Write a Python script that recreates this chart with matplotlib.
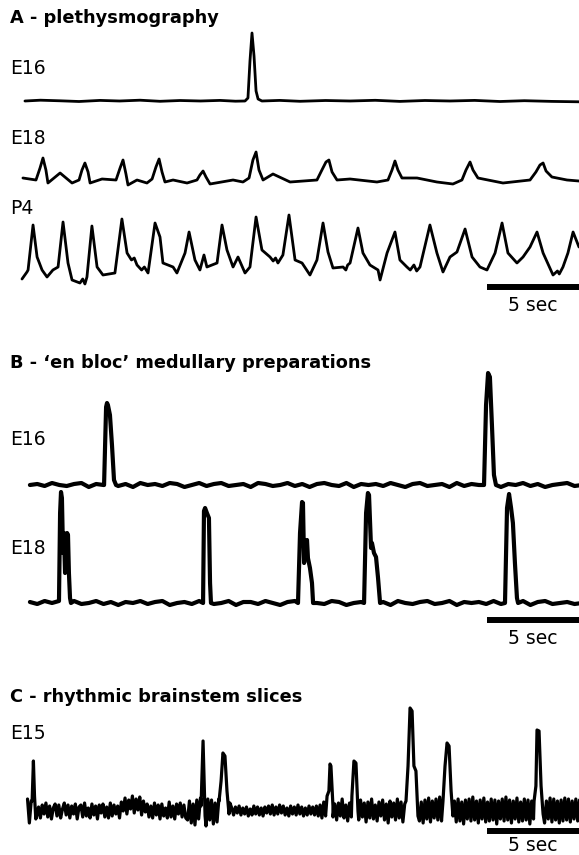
import numpy as np
import matplotlib
matplotlib.use("Agg")
import matplotlib.pyplot as plt

plt.rcParams['font.family'] = ['DejaVu Sans']

# ---------------- data (time in s, amplitude in arbitrary units) ----------------
scale_bar_sec = 5
t_end = 30.27

# A - plethysmography
a_e16_t = [0.16, 1.0, 2.07, 3.1, 4.24, 5.3, 6.41, 7.5, 8.59, 9.7, 10.76, 11.6, 12.12, 12.28,
           12.39, 12.50, 12.61, 12.72, 12.83, 13.04, 14.0, 15.11, 16.5, 17.83, 19.2,
           20.54, 21.9, 23.26, 24.6, 25.98, 27.3, 28.8, 30.27]
a_e16_v = [0, 0.8, 0.2, -0.5, 0.6, 0, 0.8, -0.3, 0.5, 0, 0.6, -0.2, 0, 3,
           40, 68, 45, 10, 2, 0, 0.6, -0.3, 0.5, 0, 0.7, -0.4, 0.5, 0, 0.6, -0.5, 0.3, -0.4, -0.8]

a_e18_t = [0.05, 0.76, 0.98, 1.14, 1.30, 1.41, 2.07, 2.72, 3.10, 3.26, 3.42, 3.59, 3.70,
           4.35, 5.11, 5.33, 5.49, 5.65, 5.76, 6.25, 6.79, 7.07, 7.28, 7.45, 7.61, 7.77,
           8.21, 8.97, 9.51, 9.67, 9.84, 10.00, 10.22, 11.47, 12.01, 12.34, 12.55, 12.72,
           12.88, 13.10, 13.64, 14.57, 16.03, 16.30, 16.52, 16.68, 16.85, 17.12, 17.83,
           19.29, 19.89, 20.11, 20.27, 20.43, 20.65, 21.47, 22.55, 23.42, 23.91, 24.13,
           24.35, 24.51, 24.78, 26.14, 27.61, 27.93, 28.15, 28.32, 28.48, 28.80, 29.62, 30.27]
a_e18_v = [4, 2, 14, 24, 12, -1, 9, -1, 2, 12, 19, 10, -1,
           3, 2, 14, 22, 8, -3, 2, -1, 3, 15, 23, 10, 0,
           2, -1, 2, 7, 11, 5, -2, 2, 0, 4, 22, 30,
           12, 2, 8, 0, 2, 12, 20, 22, 10, 2, 3,
           0, 2, 12, 21, 12, 4, 4, 0, -2, 2, 12,
           20, 12, 4, -1, 2, 10, 17, 19, 11, 5, 2, 1]

a_p4_t = [0.00, 0.27, 0.33, 0.60, 0.82, 1.09, 1.36, 1.68, 1.96, 2.23, 2.50, 2.72, 3.15,
          3.30, 3.42, 3.53, 3.80, 4.08, 4.40, 5.05, 5.43, 5.71, 5.95, 6.10, 6.25, 6.50,
          6.65, 6.85, 7.23, 7.50, 7.66, 8.21,
          8.42, 8.86, 9.08, 9.40, 9.67, 9.89, 10.05, 10.60, 10.87, 11.14, 11.47, 11.74,
          12.12, 12.39, 12.72, 13.04, 13.48, 13.65, 13.78, 13.91, 14.18, 14.51, 14.84,
          15.22, 15.65, 16.03, 16.36, 16.63, 16.90, 17.45, 17.60, 17.70, 17.83, 18.26,
          18.53, 18.91, 19.35, 19.46, 19.84, 20.27, 20.54, 20.92, 21.10, 21.30, 21.45,
          21.63, 22.17, 22.55, 22.88, 23.26, 23.64, 24.08, 24.46, 24.89, 25.27, 25.71,
          26.09, 26.41, 26.90, 27.23, 27.61, 27.99, 28.32, 28.86, 29.10, 29.20, 29.40,
          29.67, 29.95, 30.27]
a_p4_v = [-9, -2, 0, 45, 13, 0, -7, 0, 3, 48, 7, -10, -13,
          -9, -14, -7, 44, 3, -5, -3, 51, 17, 10, 12, 5, 0,
          3, -3, 47, 33, 7, 3,
          -3, 17, 38, 10, 0, 15, 3, 7, 45, 20, 3, 13,
          -3, 3, 53, 20, 13, 9, 12, 7, 15, 55, 10,
          7, -5, 10, 47, 18, 2, 3, 0, 5, 7, 42,
          17, 5, 0, -10, 17, 38, 10, 3, 0, 5, -1,
          3, 45, 17, -2, 13, 18, 41, 13, 3, 0, 17,
          47, 17, 7, 13, 23, 38, 17, -5, -1, -4, 3,
          17, 38, 23]

# B - 'en bloc' medullary preparations
b_t0, b_dt = 0.43, 0.4
b_e16_noise = [0, 1, -1, 2, 0, -1, 1, 2, -2, 1, 0, 2, -1, 1, -2, 2, 0, 1, -1, 2,
               1, -2, 0, 2, -1, 1, 2, -1, 0, 1, -2, 2, 1, -1, 0, 2, -1, 1, -2, 1,
               2, 0, -1, 2, -2, 1, 0, 1, -1, 2, 0, -2, 1, 2, -1, 0, 1, -2, 2, -1,
               1, 0, 2, -1, -2, 1, 0, 2, -1, 1, -2, 0, 1, 2, -1, 0]
b_e16_burst_t = [[4.46, 4.57, 4.62, 4.67, 4.78, 4.89, 5.00, 5.11],
                 [25.11, 25.22, 25.33, 25.43, 25.54, 25.65, 25.76]]
b_e16_burst_v = [[0, 78, 82, 80, 70, 40, 5, 0],
                 [0, 80, 112, 108, 60, 10, 0]]

b_e18_noise = [1, -1, 2, 0, -2, 1, 2, -1, 0, 2, -1, 1, -2, 1, 0, 2, -1, 1, 2, -2,
               0, 1, -1, 2, 1, -1, 0, 2, -2, 1, 1, -1, 2, 0, -2, 1, 2, -1, 1, 0,
               -1, 2, 1, -2, 0, 1, 2, -1, 1, -2, 2, 0, -1, 1, 2, -1, 0, 2, -2, 1,
               0, 1, -1, 2, -1, 1, 0, 2, -2, 1, 2, -1, 0, 1, -1, 0]
b_e18_burst_t = [[2.01, 2.07, 2.12, 2.17, 2.23, 2.28, 2.34, 2.39, 2.45, 2.50, 2.55, 2.61, 2.66],
                 [9.84, 9.89, 9.95, 10.05, 10.16, 10.22, 10.27],
                 [15.0, 15.11, 15.22, 15.27, 15.33, 15.43, 15.49, 15.54, 15.65, 15.76, 15.82],
                 [18.59, 18.70, 18.80, 18.86, 18.97, 19.02, 19.13, 19.24, 19.35, 19.46],
                 [26.25, 26.36, 26.47, 26.58, 26.68, 26.79, 26.90, 26.96]]
b_e18_burst_v = [[2, 90, 111, 105, 50, 70, 30, 55, 70, 68, 30, 5, 0],
                 [0, 92, 95, 90, 85, 20, 0],
                 [0, 70, 101, 100, 40, 60, 63, 45, 35, 20, 0],
                 [0, 90, 110, 108, 55, 60, 50, 46, 25, 0],
                 [0, 95, 109, 95, 80, 40, 5, 0]]

# C - rhythmic brainstem slices
c_t0, c_dt = 0.3, 0.1
c_e15_noise = [12, -12, 10,
               -6, 7, -5, 4, -7, 6, -3, 8, -6, 5,
               -8, 3, 7, -5, 6, -7, 2, 8, -4, 6,
               -7, 5, -3, 7, -8, 4, 6, -6, 8, -5,
               3, -7, 7, -4, 5, -8, 6, -2, 7, -6,
               4, -7, 8, -5, 6, -3, 5, -7,
               9, 0, 13, -3, 11, 2, 15, -2, 12, 1, 14, -4, 10, -1,
               7, -6, 5, -7, 8, -4, 6, -8, 7, -5, 3, -7, 9, -6, 5, -8, 7, -3, 8, -6, 6, -7,
               -9, 10, -12, 7, -14, 11, -8, 13, -10, 9, -15, 12,
               -9, 11, -13, 8, -11, 12, -14, 10, -9, 13, -12, 8,
               3, -4, 4, -2, 5, -4, 3, -3, 4, -5,
               2, -4, 5, -3, 4, -4, 3, -5, 4, -2,
               5, -3, 6, -4, 4, -3, 6, -2, 5, -4,
               3, -5, 5, -3, 4, -4, 6, -3, 4, -5,
               3, -4, 5, -3, 4, -4, 5, -5,
               6, -7, 9, -5, 8, -8, 10, -6, 7, -9,
               8, -5, 12, -7, 6, -10, 8, -6, 10, -8,
               7, -9, 11, -6, 8, -11, 9, -7, 12, -8,
               6, -10, 9, -5, 11, -9, 7, -12, 10, -6,
               8, -9, 12, -7, 9, -11, 7, -8, 10, -9,
               -10, 11, -8, 12, -10, 9, -12, 11, -8, 13,
               -11, 10, -7, 12, -9, 14, -10, 9, -12, 11,
               -9, 13, -8, 10, -11, 12, -10, 9, -13, 11,
               -8, 12, -10, 14, -9, 10, -12, 11, -8, 13,
               -11, 9, -10, 12, -9, 11, -13, 10, -8, 12,
               -10, 14, -9, 11, -12, 10, -8, 13, -11, 9,
               -10, 12, -9, 11, -13, 10, -8, 14, -10, 12,
               -9, 11, -12, 10, -8, 13, -11, 12, -9, 10,
               -12, 11, -10, 13, -9, 12, -11, 10, -8, 12,
               -10, 11]
c_e15_burst_t = [[0.55, 0.62, 0.68, 0.75],
                 [9.73, 9.84, 9.95],
                 [10.71, 10.82, 10.92, 11.03, 11.14, 11.25],
                 [16.58, 16.68, 16.74, 16.79, 16.90],
                 [17.93, 18.04, 18.15, 18.26],
                 [20.87, 20.98, 21.09, 21.20, 21.30, 21.41, 21.52],
                 [22.88, 22.99, 23.10, 23.21, 23.32, 23.42],
                 [27.83, 27.93, 27.99, 28.10, 28.21, 28.32]]
c_e15_burst_v = [[10, 50, 15, -8],
                 [5, 70, -5],
                 [10, 30, 58, 55, 20, -3],
                 [15, 20, 47, 45, 5],
                 [15, 50, 48, 0],
                 [10, 45, 103, 100, 45, 40, -5],
                 [10, 45, 68, 65, 20, -5],
                 [10, 25, 81, 80, 25, -3]]

titles = ["A - plethysmography", "B - \u2018en bloc\u2019 medullary preparations",
          "C - rhythmic brainstem slices"]
trace_labels = ["E16", "E18", "P4", "E16", "E18", "E15"]


def compose(t0, dt, noise, bursts_t, bursts_v):
    tb = t0 + dt * np.arange(len(noise))
    vb = np.asarray(noise, float)
    keep = np.ones(len(tb), bool)
    for bt in bursts_t:
        keep &= ~((tb >= min(bt)) & (tb <= max(bt)))
    t = np.concatenate([tb[keep]] + [np.asarray(b, float) for b in bursts_t])
    v = np.concatenate([vb[keep]] + [np.asarray(b, float) for b in bursts_v])
    order = np.argsort(t)
    return t[order], v[order]


# ---------------- layout ----------------
W, H = 579, 855
PX_PER_SEC = 18.4
T_LEFT = -22 / PX_PER_SEC

fig = plt.figure(figsize=(W / 100, H / 100), dpi=100)
ax = fig.add_axes([0, 0, 1, 1])
ax.set_xlim(T_LEFT, T_LEFT + W / PX_PER_SEC)
ax.set_ylim(H, 0)
ax.axis('off')

def trace(t, v, base, lw):
    ax.plot(t, base - np.asarray(v, float), color='black', lw=lw,
            solid_joinstyle='round', solid_capstyle='round')

trace(a_e16_t, a_e16_v, 101, 2.0)
trace(a_e18_t, a_e18_v, 182, 2.0)
trace(a_p4_t, a_p4_v, 270, 2.0)

t, v = compose(b_t0, b_dt, b_e16_noise, b_e16_burst_t, b_e16_burst_v)
trace(t, v, 485, 3.0)
t, v = compose(b_t0, b_dt, b_e18_noise, b_e18_burst_t, b_e18_burst_v)
trace(t, v, 603, 3.0)
t, v = compose(c_t0, c_dt, c_e15_noise, c_e15_burst_t, c_e15_burst_v)
trace(t, v, 811, 2.3)

FS = 13.5
FS_TITLE = 12.8
for ybar, ytxt in [(287, 305), (620, 638), (831, 845)]:
    ax.plot([t_end - scale_bar_sec, t_end], [ybar, ybar], color='black', lw=4.3,
            solid_capstyle='butt')
    ax.text(t_end - scale_bar_sec / 2, ytxt, f"{scale_bar_sec} sec", ha='center',
            va='center', fontsize=FS)

for title, y in zip(titles, [18, 363, 697]):
    fig.text(10 / W, 1 - y / H, title, fontsize=FS_TITLE, fontweight='bold',
             va='center', ha='left')

for lab, y in zip(trace_labels, [69, 139, 208, 439, 549, 733]):
    fig.text(10 / W, 1 - y / H, lab, fontsize=FS, va='center', ha='left')

fig.savefig("out.png", dpi=100)
